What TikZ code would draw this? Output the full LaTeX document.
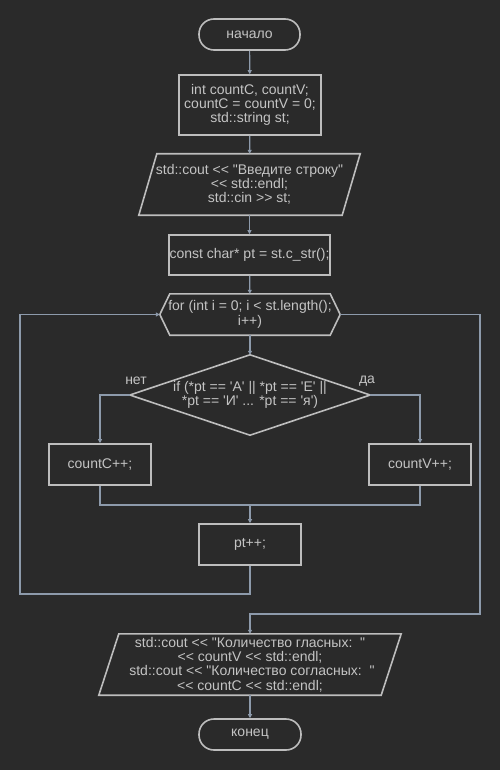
\documentclass[tikz,border=0pt]{standalone}
\usepackage{fontspec}
\setmainfont{Liberation Sans}[Ligatures=TeXOff]
\usetikzlibrary{arrows.meta}
\definecolor{bg}{HTML}{2A2A2A}
\definecolor{strk}{HTML}{BDBDBD}
\definecolor{conn}{HTML}{8D9AAB}
\definecolor{txt}{HTML}{C4C4C4}
\begin{document}
\begin{tikzpicture}[x=1pt,y=-1pt,
  every node/.style={inner sep=0pt, text=txt, align=center, font=\fontsize{14}{14.3}\selectfont},
  box/.style={draw=strk, line width=1.6pt, rectangle},
  term/.style={draw=strk, line width=1.6pt, rectangle, rounded corners=15pt, minimum width=101pt, minimum height=31pt},
  ghost/.style={rectangle, draw=none},
  outline/.style={draw=strk, line width=1.6pt, line join=miter},
  line/.style={draw=conn, line width=1.2pt},
  arrow/.style={line, -{Triangle[length=4pt,width=4pt]}}
]
\fill[bg] (0,0) rectangle (500,770);
\useasboundingbox (0,0) rectangle (500,770);

\node[term] (start) at (249.5,34.5) {начало};
\node[box, minimum width=142pt, minimum height=60pt] (init) at (250,105) {int countC, countV;\\countC = countV = 0;\\std::string st;};
\node[ghost, minimum width=221pt, minimum height=61pt] (in) at (249.5,184.5) {std::cout << "Введите строку"\\<< std::endl;\\std::cin >> st;};
\draw[outline] (in.south west) -- ([xshift=-18pt]in.south east) -- (in.north east) -- ([xshift=18pt]in.north west) -- cycle;
\node[box, minimum width=161pt, minimum height=40pt] (cstr) at (249.5,255) {const char* pt = st.c\_str();};
\node[ghost, minimum width=180pt, minimum height=41pt] (loop) at (250,314.5) {for (int i = 0; i < st.length();\\i++)};
\draw[outline] (loop.west) -- ([xshift=10pt]loop.north west) -- ([xshift=-10pt]loop.north east) -- (loop.east) -- ([xshift=-10pt]loop.south east) -- ([xshift=10pt]loop.south west) -- cycle;
\node[ghost, minimum width=240pt, minimum height=80pt] (cond) at (250,395) {if (*pt == 'А' || *pt == 'Е' ||\\*pt == 'И' ... *pt == 'я')};
\draw[outline] (cond.north) -- (cond.east) -- (cond.south) -- (cond.west) -- cycle;
\node (no) at (136,381) {нет};
\node (yes) at (367,381) {да};
\node[box, minimum width=102pt, minimum height=41pt] (cc) at (100,464.5) {countC++;};
\node[box, minimum width=102pt, minimum height=41pt] (cv) at (420,464.5) {countV++;};
\node[box, minimum width=102pt, minimum height=41pt] (inc) at (250,544.5) {pt++;};
\node[ghost, minimum width=302pt, minimum height=61pt] (out) at (250,664.5) {std::cout << "Количество гласных:\ \ "\\<< countV << std::endl;\\\ std::cout << "Количество согласных:\ \ "\\<< countC << std::endl;};
\draw[outline] (out.south west) -- ([xshift=-20pt]out.south east) -- (out.north east) -- ([xshift=20pt]out.north west) -- cycle;
\node[term, minimum width=102pt] (stop) at (250,734.5) {конец};

\coordinate (m) at (250,505);
\coordinate (lb1) at (250,594);
\coordinate (lb2) at (20,594);
\coordinate (ex1) at (480,614);

\draw[arrow] (start) -- (init);
\draw[arrow] (init) -- (in);
\draw[arrow] (in) -- (cstr);
\draw[arrow] (cstr) -- (loop);
\draw[arrow] (loop) -- (cond);
\draw[arrow] (cond.west) -| (cc.north);
\draw[arrow] (cond.east) -| (cv.north);
\draw[line] (cc.south) |- (m);
\draw[line] (cv.south) |- (m);
\draw[arrow] (m) -- (inc.north);
\draw[arrow] (inc.south) -- (lb1) -- (lb2) |- (loop.west);
\draw[arrow] (loop.east) -| (ex1) -| (out.north);
\draw[arrow] (out) -- (stop);
\end{tikzpicture}
\end{document}
